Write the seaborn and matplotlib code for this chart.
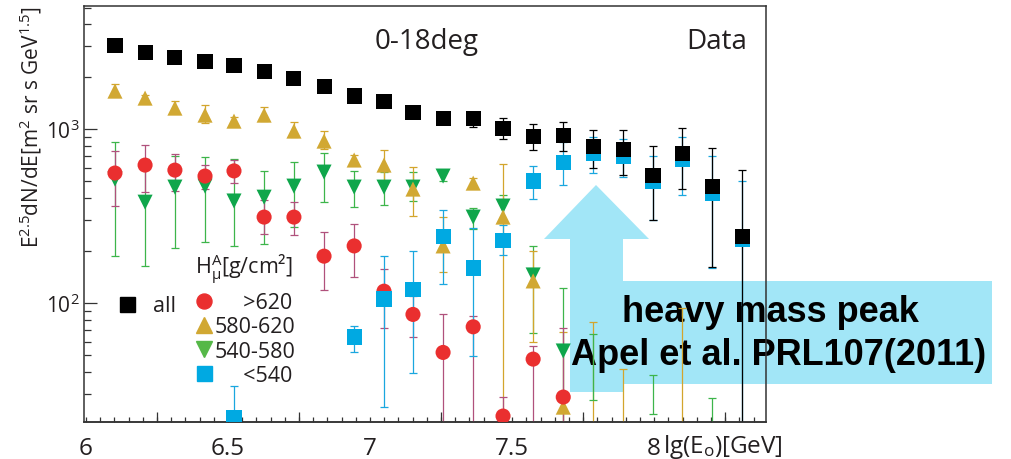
import matplotlib
matplotlib.use('Agg')
import matplotlib.pyplot as plt
from matplotlib.lines import Line2D
from matplotlib.patches import Polygon
from matplotlib.ticker import FixedLocator, MultipleLocator, NullFormatter, NullLocator, LogLocator
import pandas as pd
import seaborn as sns

# energy bins, lg(E0/GeV)
lg_e = [6.102, 6.208, 6.313, 6.419, 6.521, 6.627, 6.732, 6.838, 6.944, 7.049, 7.151,
        7.257, 7.363, 7.468, 7.574, 7.680, 7.785, 7.891, 7.996, 8.099, 8.204, 8.310]

# all particles
all_flux = [3040, 2770, 2594, 2460, 2333, 2155, 1963, 1766, 1549, 1449, 1252,
            1157, 1157, 1013, 912, 924, 798, 767, 544, 728, 470, 240]
all_lo = [2950, 2690, 2520, 2390, 2260, 2090, 1900, 1710, 1500, 1400, 1210,
          1110, 1027, 876, 757, 747, 597, 544, 300, 452, 161, 5]
all_hi = [3130, 2850, 2670, 2530, 2400, 2220, 2030, 1820, 1600, 1500, 1290,
          1200, 1252, 1157, 1068, 1097, 987, 987, 798, 1013, 777, 581]

# >620 g/cm2 (first 16 bins)
red_flux = [559, 621, 581, 537, 575, 312, 312, 186, 213, 117, 86, 52, 73, 22.4, 47.6, 28.8]
red_lo = [361, 434, 440, 452, 489, 249, 246, 119, 141, 72, 64, 5, 5, 5, 5, 5]
red_hi = [748, 809, 718, 621, 664, 390, 380, 256, 285, 157, 110, 86, 84, 29, 57, 72]

# 580-620 g/cm2
gold_flux = [1653, 1507, 1320, 1203, 1111, 1203, 974, 853, 664, 621, 452, 213, 489, 312, 134, 25.2]
gold_lo = [1560, 1450, 1250, 1083, 1060, 1111, 899, 767, 620, 496, 316, 150, 460, 22, 60, 5]
gold_hi = [1815, 1570, 1449, 1374, 1170, 1338, 1097, 974, 710, 757, 605, 312, 520, 629, 200, 68]
gold_lim_x = [7.785, 7.891, 8.099]
gold_lim_lo = [5, 5, 5]
gold_lim_hi = [77.8, 41.8, 93.5]

# 540-580 g/cm2
green_flux = [516, 380, 464, 470, 386, 406, 470, 566, 464, 464, 464, 537, 312, 361, 145, 53]
green_lo = [186, 163, 207, 224, 213, 218, 274, 380, 356, 365, 386, 500, 266, 300, 67, 5]
green_hi = [842, 672, 700, 691, 672, 575, 646, 728, 575, 566, 566, 575, 351, 420, 213, 122]
green_lim_x = [7.785, 7.996, 8.204]
green_lim_lo = [27.7, 23, 5]
green_lim_hi = [66.4, 38.5, 28.4]

# <540 g/cm2
cyan_x = [6.521, 6.944, 7.049, 7.151, 7.257, 7.363, 7.468, 7.574, 7.680,
          7.785, 7.891, 7.996, 8.099, 8.204, 8.310]
cyan_flux = [22.1, 63.8, 105.5, 120, 240, 159, 230, 503, 646, 723, 695, 499, 668, 426, 232]
cyan_lo = [5, 52.2, 25.2, 39.6, 128, 49.5, 190, 396, 477, 560, 530, 300, 420, 160, 5]
cyan_hi = [33.4, 73.8, 186, 199, 342, 270, 280, 613, 842, 900, 880, 700, 900, 700, 500]

x_ticks = [6, 6.5, 7, 7.5, 8]
x_tick_labels = ['6', '6.5', '7', '7.5', '8']

colors = {
    'all': '#000000',
    '>620': '#ea2f2f',
    '580-620': '#d1a833',
    '540-580': '#0fa64b',
    '<540': '#00a9e2',
}
bar_colors = {
    'all': '#000000',
    '>620': '#b0517c',
    '580-620': '#d3a52c',
    '540-580': '#3db54a',
    '<540': '#1aa7df',
}
markers = {'all': 's', '>620': 'o', '580-620': '^', '540-580': 'v', '<540': 's'}
text_dark = '#231f20'
note_blue = '#a2e6f7'

sns.set_theme(style="ticks")
plt.rcParams.update({
    'mathtext.fontset': 'custom',
    'mathtext.rm': 'Open Sans',
    'mathtext.it': 'Open Sans:italic',
    'mathtext.bf': 'Open Sans:bold',
    'axes.edgecolor': '#333333',
    'axes.linewidth': 1.1,
    'text.color': text_dark,
})
plt.rcParams['font.family'] = ['Open Sans', 'DejaVu Sans']

fig = plt.figure(figsize=(10.12, 4.6), dpi=100)
ax = fig.add_axes([0.083, 0.0804, 0.674, 0.904])
ax.set_facecolor('none')
ax.set_yscale('log')

series = [
    ('540-580', lg_e[:16], green_flux, green_lo, green_hi),
    ('580-620', lg_e[:16], gold_flux, gold_lo, gold_hi),
    ('>620', lg_e[:16], red_flux, red_lo, red_hi),
    ('<540', cyan_x, cyan_flux, cyan_lo, cyan_hi),
    ('all', lg_e, all_flux, all_lo, all_hi),
]

frames = []
for name, xs, ys, lo, hi in series:
    low = [y - l for y, l in zip(ys, lo)]
    up = [h - y for y, h in zip(ys, hi)]
    ax.errorbar(xs, ys, yerr=[low, up], fmt='none', ecolor=bar_colors[name],
                elinewidth=0.9, capsize=2.6, capthick=0.9, zorder=2)
    frames.append(pd.DataFrame({'lgE': xs, 'flux': ys, 'group': name}))

# bins where only the error bar reaches into the plot
for name, xs, lo, hi in [('580-620', gold_lim_x, gold_lim_lo, gold_lim_hi),
                         ('540-580', green_lim_x, green_lim_lo, green_lim_hi)]:
    ax.errorbar(xs, hi, yerr=[[h - l for h, l in zip(hi, lo)], [0] * len(hi)],
                fmt='none', ecolor=bar_colors[name], elinewidth=0.9,
                capsize=2.6, capthick=0.9, zorder=2)

df = pd.concat(frames, ignore_index=True)
sns.scatterplot(data=df, x='lgE', y='flux', hue='group', style='group',
                palette=colors, markers=markers, s=118, linewidth=0,
                legend=False, ax=ax, zorder=3)

ax.set_xlim(5.993, 8.394)
ax.set_ylim(20.7, 5090)
ax.set_xlabel('')
ax.set_ylabel(r'E$^{2.5}$dN/dE[m$^{2}$ sr s GeV$^{1.5}$]', fontsize=15, color=text_dark)
ax.yaxis.set_label_coords(-0.058, 0.712)

ax.xaxis.set_major_locator(FixedLocator(x_ticks))
ax.set_xticklabels(x_tick_labels)
ax.xaxis.set_minor_locator(MultipleLocator(0.05))
ax.tick_params(axis='x', which='both', direction='in', length=3.5, width=0.9,
               labelsize=17.5, pad=10, colors='#333333', labelcolor=text_dark)
ax.tick_params(axis='y', which='major', direction='in', length=9.5, width=0.9,
               labelsize=15, pad=3, colors='#333333', labelcolor=text_dark)
ax.tick_params(axis='y', which='minor', direction='in', length=5, width=0.9,
               colors='#333333')
ax.yaxis.set_minor_locator(LogLocator(base=10, subs=range(2, 10)))
ax.yaxis.set_minor_formatter(NullFormatter())

# longer ticks half way between the labelled ones
sec = ax.secondary_xaxis('bottom')
sec.set_xticks([6.25, 6.75, 7.25, 7.75, 8.25])
sec.set_xticklabels([])
sec.xaxis.set_minor_locator(NullLocator())
sec.tick_params(direction='in', length=7, width=0.9, colors='#333333')

for side in ['top', 'right', 'left', 'bottom']:
    ax.spines[side].set_visible(True)

ax.text(0.503, 0.899, '0-18deg', transform=ax.transAxes, ha='center',
        va='baseline', fontsize=20, color=text_dark)
ax.text(0.972, 0.899, 'Data', transform=ax.transAxes, ha='right',
        va='baseline', fontsize=20, color=text_dark)
fig.text(0.655, 0.0152, r'lg(E$_\mathrm{o}$)[GeV]', ha='left', va='baseline',
         fontsize=17.5, color=text_dark)

# legend
ax.text(0.163, 0.356, r'H$_\mathrm{μ}^\mathrm{A}$[g/cm²]', transform=ax.transAxes,
        ha='left', va='baseline', fontsize=15.5, color=text_dark)

all_handle = [Line2D([], [], marker='s', color=colors['all'], linestyle='none', markersize=10.8)]
leg1 = ax.legend(all_handle, ['all'], loc='center left', bbox_to_anchor=(0.0506, 0.279),
                 frameon=False, fontsize=15.5, handlelength=0.8, handletextpad=0.8,
                 borderpad=0, borderaxespad=0)
ax.add_artist(leg1)

grp_handles = [
    Line2D([], [], marker='o', color=colors['>620'], linestyle='none', markersize=10.8),
    Line2D([], [], marker='^', color=colors['580-620'], linestyle='none', markersize=11),
    Line2D([], [], marker='v', color='#55b848', linestyle='none', markersize=11),
    Line2D([], [], marker='s', color=colors['<540'], linestyle='none', markersize=10.8),
]
grp_labels = ['     >620', '580-620', '540-580', '     <540']
ax.legend(grp_handles, grp_labels, loc='upper left', bbox_to_anchor=(0.1635, 0.3125),
          frameon=False, fontsize=15.5, handlelength=0.8, handletextpad=0.1,
          labelspacing=0.15, borderpad=0, borderaxespad=0)

# arrow + note box behind the axes content
W, H = 1012.0, 460.0
arrow_px = [(596, 186), (649, 240), (623, 240), (623, 282), (992, 282), (992, 385),
            (623, 385), (623, 393), (570, 393), (570, 240), (544, 240)]
arrow = Polygon([(x / W, 1 - y / H) for x, y in arrow_px], closed=True,
                transform=fig.transFigure, facecolor=note_blue, edgecolor='none', zorder=-2)
fig.add_artist(arrow)
fig.text(770 / W, 1 - 322 / H, 'heavy mass peak', ha='center', va='baseline',
         fontsize=26, fontweight='bold', family='Liberation Sans', color='#000000', zorder=-1)
fig.text(779 / W, 1 - 365 / H, 'Apel et al. PRL107(2011)', ha='center', va='baseline',
         fontsize=26, fontweight='bold', family='Liberation Sans', color='#000000', zorder=-1)

fig.savefig('out.png', dpi=100)
